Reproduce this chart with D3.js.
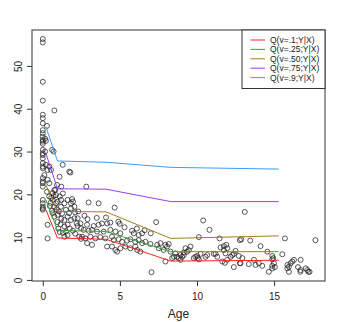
<!DOCTYPE html>
<html>
<head>
<meta charset="utf-8">
<script src="https://cdn.jsdelivr.net/npm/d3@7/dist/d3.min.js"></script>
<style>
  body { margin: 0; background: #fff; }
  svg text { font-family: "Liberation Sans", Arial, Helvetica, sans-serif; fill: #222; }
</style>
</head>
<body>
<div id="chart"></div>
<script>
// observed points [age, y]
var observations = [
  [0,56.3],[0,55.5],[0,46.3],[0,41.9],[0,38.6],[0,37.8],[0,36.6],[0,35.0],[0,34.3],[0,33.5],
  [0,32.7],[0,32.3],[0,31.8],[0,30.4],[0,29.6],[0,29.2],[0,28.4],[0,27.3],[0,26.5],[0,26.1],
  [0,23.8],[0,23.0],[0,22.6],[0,21.8],[0,18.7],[0,17.9],[0,17.1],[0,16.7],[0,16.4],
  [0.27,36.0],[0.15,33.0],[0.2,32.5],[0.42,26.5],[0.31,25.7],[0.53,25.7],[0.31,23.4],[0.42,22.6],
  [0.27,20.6],[0.42,19.5],[0.31,12.9],[0.31,9.7],[0.2,26.9],[0.15,30.0],[0.1,24.5],
  [0.75,39.6],[0.6,30.4],[0.7,30.0],[0.75,21.0],[0.64,20.3],[0.64,18.7],[0.96,18.3],[0.86,17.9],
  [0.64,15.6],[0.75,14.8],[0.96,15.2],[0.92,22.2],[0.81,21.0],[0.55,19.2],[0.7,19.6],[0.85,19.8],
  [0.5,18.0],[0.75,17.0],[0.9,16.5],[0.95,13.5],[0.45,17.3],[0.6,16.2],
  [1.09,24.1],[1.2,21.8],[1.29,26.9],[1.72,25.3],[1.79,25.1],[1.18,18.7],[1.40,17.9],[1.61,18.7],
  [1.83,17.9],[1.18,17.1],[1.5,16.4],[1.83,16.7],[2.05,17.1],[1.9,18.9],[1.96,18.3],[1.61,14.8],
  [1.4,14.0],[1.83,14.0],[2.05,14.4],[2.26,14.4],[1.61,12.9],[1.4,12.5],[2.26,12.6],[2.48,12.1],
  [1.5,11.3],[1.4,10.1],[1.61,10.5],[2.37,10.1],[2.48,9.6],[1.1,19.5],[1.3,20.2],[1.05,16.0],
  [1.25,15.5],[1.15,13.0],[1.3,11.0],[1.7,15.6],[2.1,15.8],[2.3,16.0],[2.2,13.2],[1.95,11.5],
  [2.1,10.8],[1.75,12.0],[1.2,14.3],[1.0,12.0],[1.1,11.2],
  [2.82,21.8],[2.97,18.1],[3.62,17.9],[4.66,16.9],[2.7,15.0],[2.9,14.2],[3.5,14.5],[4.1,14.6],
  [2.44,13.2],[2.87,12.9],[3.3,12.6],[3.62,12.9],[3.84,13.2],[4.17,13.2],[4.38,13.4],[4.99,13.1],
  [2.65,11.7],[2.97,11.5],[3.19,11.7],[3.52,11.3],[3.95,11.3],[4.38,11.7],[4.71,11.3],[5.03,10.9],
  [5.79,11.5],[5.9,10.9],[6.22,10.5],[6.44,10.9],
  [2.55,10.1],[2.76,9.7],[3.08,10.1],[3.41,9.7],[3.73,10.0],[4.06,9.7],[4.49,10.1],[4.6,9.3],
  [4.92,9.5],[5.14,8.9],[5.47,9.2],[5.68,9.5],[6.0,8.9],[6.22,9.3],[6.44,8.6],[6.66,8.9],
  [6.98,8.4],[7.42,8.2],[7.63,8.6],[7.95,8.2],[8.17,8.4],
  [2.87,8.6],[3.19,8.2],[4.17,7.8],[4.49,7.8],[4.71,7.0],[4.82,6.6],[5.03,7.4],[5.36,7.8],
  [5.68,7.4],[6.12,7.0],[6.33,6.6],[6.0,7.8],
  [7.05,1.8],[7.95,4.3],[8.39,5.1],[8.71,5.4],[8.93,4.7],[9.14,5.8],[9.36,6.6],
  [7.52,7.4],[7.84,7.0],[8.06,7.8],[8.28,6.6],[8.6,6.2],[8.93,5.8],[9.25,7.4],[9.47,7.0],
  [7.35,13.5],[4.9,13.6],[5.3,12.3],[6.1,12.0],[6.6,11.6],[7.0,10.9],
  [10.4,13.9],[10.81,11.7],[10.12,10.0],[11.46,9.7],
  [9.58,7.8],[8.82,5.1],[8.5,5.4],[9.9,5.4],[10.05,5.1],[10.23,6.1],[10.55,5.4],[10.66,5.8],
  [11.09,6.1],[11.31,5.4],[11.53,7.6],[11.74,7.9],[11.85,6.2],[11.96,4.7],
  [11.9,8.2],[12.78,9.3],[9.14,6.4],[9.04,5.4],[9.79,5.1],[10.01,5.6],[10.12,4.8],[11.2,6.1],
  [12.18,5.4],[12.29,5.8],[12.5,6.8],[12.39,6.1],[11.81,4.0],[12.39,3.0],[12.78,3.9],
  [13.1,15.9],[17.68,9.3],[15.7,9.7],[12.87,9.5],[13.45,9.2],[14.12,7.9],[15.53,6.0],
  [14.56,6.6],[14.88,5.6],[14.95,5.1],[14.99,3.9],[14.88,3.3],[15.05,3.0],[14.88,2.7],[14.66,1.9],
  [11.96,7.4],[11.74,7.0],[12.71,5.6],[12.94,5.1],[12.82,3.9],[13.36,3.7],[13.69,4.7],[13.8,3.5],
  [14.01,3.9],[14.23,3.3],[11.64,4.3],[14.88,4.8],
  [15.86,3.5],[15.96,3.1],[15.86,2.7],[16.07,3.9],[16.18,4.3],[15.96,1.9],[16.29,4.7],[16.72,4.7],
  [16.55,3.0],[16.72,2.3],[17.05,2.7],[17.15,2.3],[17.22,1.9],[17.3,1.9],[16.7,1.9]
];

// quantile curves, evaluated at these ages
var knotAges = [0.2, 0.95, 4.1, 8.3, 15.3];
var q10 = [16.4, 9.8, 9.5, 4.4, 4.6];
var q25 = [18.7, 11.6, 11.3, 6.6, 6.6];
var q50 = [22.2, 16.0, 15.9, 9.7, 10.3];
var q75 = [29.6, 21.3, 21.2, 18.3, 18.3];
var q90 = [35.8, 27.8, 27.5, 26.3, 25.9];

var legendLabels = ["Q(v=.1;Y|X)", "Q(v=.25;Y|X)", "Q(v=.50;Y|X)", "Q(v=.75;Y|X)", "Q(v=.9;Y|X)"];
var lineColors = ["#ff2020", "#3aa53a", "#a87a1e", "#9b3cf5", "#3d9cff"];
var xTicks = [0, 5, 10, 15];
var yTicks = [0, 10, 20, 30, 40, 50];

var width = 337, height = 322;
var plot = { left: 32, right: 325, top: 30, bottom: 281 };

var svg = d3.select("#chart").append("svg")
    .attr("width", width)
    .attr("height", height);

var x = d3.scaleLinear().domain([-0.7, 18.3]).range([plot.left, plot.right]);
var y = d3.scaleLinear().domain([-0.25, 58.4]).range([plot.bottom, plot.top]);

// 坐标轴
var xAxis = svg.append("g")
    .attr("transform", "translate(0," + plot.bottom + ")")
    .call(d3.axisBottom(x).tickValues(xTicks).tickSize(5).tickPadding(6.5));
xAxis.select(".domain").remove();
xAxis.selectAll("line").attr("stroke", "#333");
xAxis.selectAll("text").style("font-size", "10px").attr("fill", "#222");

var yAxis = svg.append("g")
    .attr("transform", "translate(" + plot.left + ",0)")
    .call(d3.axisLeft(y).tickValues(yTicks).tickSize(5));
yAxis.select(".domain").remove();
yAxis.selectAll("line").attr("stroke", "#333");
yAxis.selectAll("text")
    .style("font-size", "10px")
    .attr("fill", "#222")
    .attr("x", null).attr("dy", null)
    .attr("text-anchor", "middle")
    .attr("transform", "translate(-14,0) rotate(-90)")
    .attr("dy", "0.35em");

svg.append("text")
    .attr("x", (plot.left + plot.right) / 2)
    .attr("y", 318)
    .attr("text-anchor", "middle")
    .style("font-size", "12px")
    .text("Age");

// 数据点
svg.append("g").selectAll("circle")
    .data(observations)
    .enter().append("circle")
    .attr("cx", d => x(d[0]))
    .attr("cy", d => y(d[1]))
    .attr("r", 2.5)
    .attr("fill", "none")
    .attr("stroke", "#222")
    .attr("stroke-width", 0.75);

// 分位数线
var line = d3.line()
    .x(d => x(d[0]))
    .y(d => y(d[1]));

[q10, q25, q50, q75, q90].forEach(function (vals, i) {
    svg.append("path")
        .datum(knotAges.map((a, j) => [a, vals[j]]))
        .attr("fill", "none")
        .attr("stroke", lineColors[i])
        .attr("stroke-width", 1)
        .attr("d", line);
});

// 图框
svg.append("rect")
    .attr("x", plot.left).attr("y", plot.top)
    .attr("width", plot.right - plot.left)
    .attr("height", plot.bottom - plot.top)
    .attr("fill", "none")
    .attr("stroke", "#333");

// 图例
var legend = svg.append("g");
legend.append("rect")
    .attr("x", 242).attr("y", plot.top)
    .attr("width", plot.right - 242).attr("height", 58.5)
    .attr("fill", "#fff")
    .attr("stroke", "#333");
legendLabels.forEach(function (lab, i) {
    var ly = 40 + i * 9.4;
    legend.append("line")
        .attr("x1", 250.5).attr("x2", 265)
        .attr("y1", ly).attr("y2", ly)
        .attr("stroke", lineColors[i]);
    legend.append("text")
        .attr("x", 270).attr("y", ly)
        .attr("dy", "0.35em")
        .style("font-size", "8.5px")
        .text(lab);
});
</script>
</body>
</html>
